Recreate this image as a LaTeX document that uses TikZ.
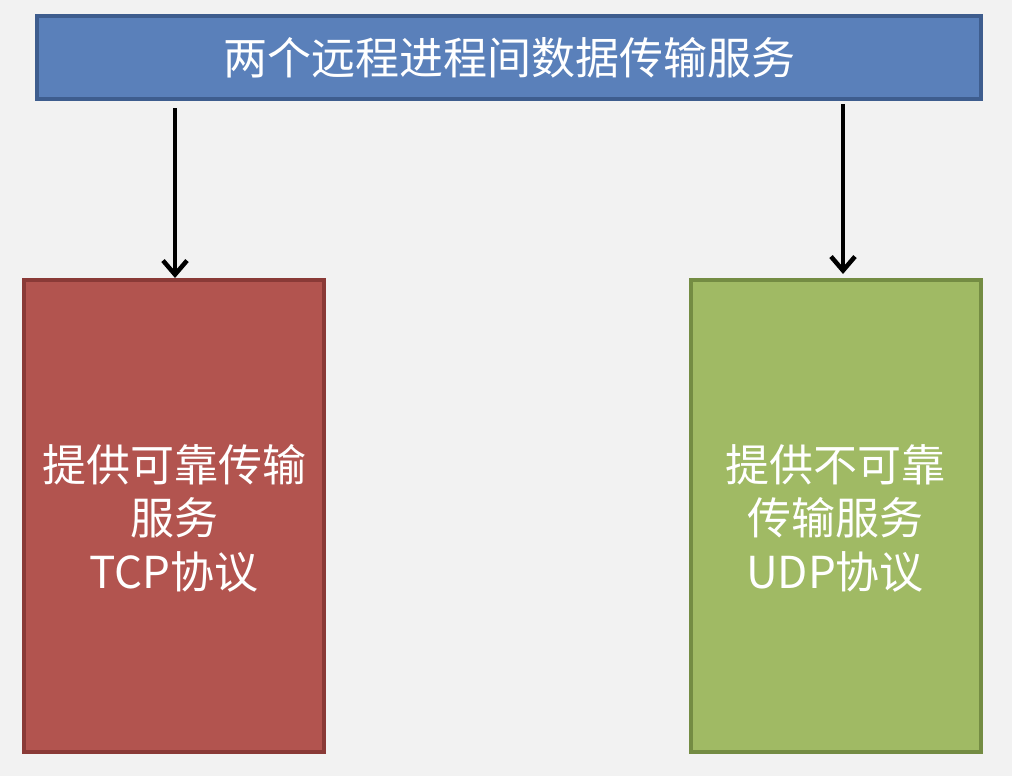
\documentclass[tikz,border=0pt]{standalone}
\usepackage{fontspec}
\setmainfont{Noto Sans CJK SC}
\usetikzlibrary{arrows.meta}
\definecolor{bg}{HTML}{F2F2F2}
\definecolor{bluef}{HTML}{5A80BA}
\definecolor{blued}{HTML}{3E5D8E}
\definecolor{redf}{HTML}{B2544F}
\definecolor{redd}{HTML}{8A3A37}
\definecolor{greenf}{HTML}{A0BA64}
\definecolor{greend}{HTML}{748C43}
\tikzset{
  box/.style={draw, line width=4pt, inner sep=0pt, outer sep=0pt, text=white, align=center, font=\fontsize{44}{53.5}\selectfont},
  lbl/.style={text=white, align=center, font=\fontsize{44}{53.5}\selectfont},
  arr/.style={line width=4.5pt, -{Straight Barb[length=14pt,width=24pt,line width=4.5pt]}}
}
\begin{document}
\begin{tikzpicture}[x=1pt,y=-1pt]
\fill[bg] (0,0) rectangle (1012,776);
\useasboundingbox (0,0) rectangle (1012,776);
\node[box, fill=bluef, draw=blued, minimum width=944pt, minimum height=83pt, anchor=north west] (top) at (37,16) {两个远程进程间数据传输服务};
\node[box, fill=redf, draw=redd, minimum width=300pt, minimum height=472pt, anchor=north west] (tcp) at (24,280) {};
\node[box, fill=greenf, draw=greend, minimum width=290pt, minimum height=472pt, anchor=north west] (udp) at (691,280) {};
\node[lbl] (tcpt) at (174,518) {提供可靠传输\\服务\\TCP协议};
\node[lbl] (udpt) at (835,518) {提供不可靠\\传输服务\\UDP协议};
\coordinate (s1) at (175,108);
\coordinate (e1) at (175,278);
\coordinate (s2) at (843,104);
\coordinate (e2) at (843,274);
\draw[arr] (s1) -- (e1);
\draw[arr] (s2) -- (e2);
\end{tikzpicture}
\end{document}
